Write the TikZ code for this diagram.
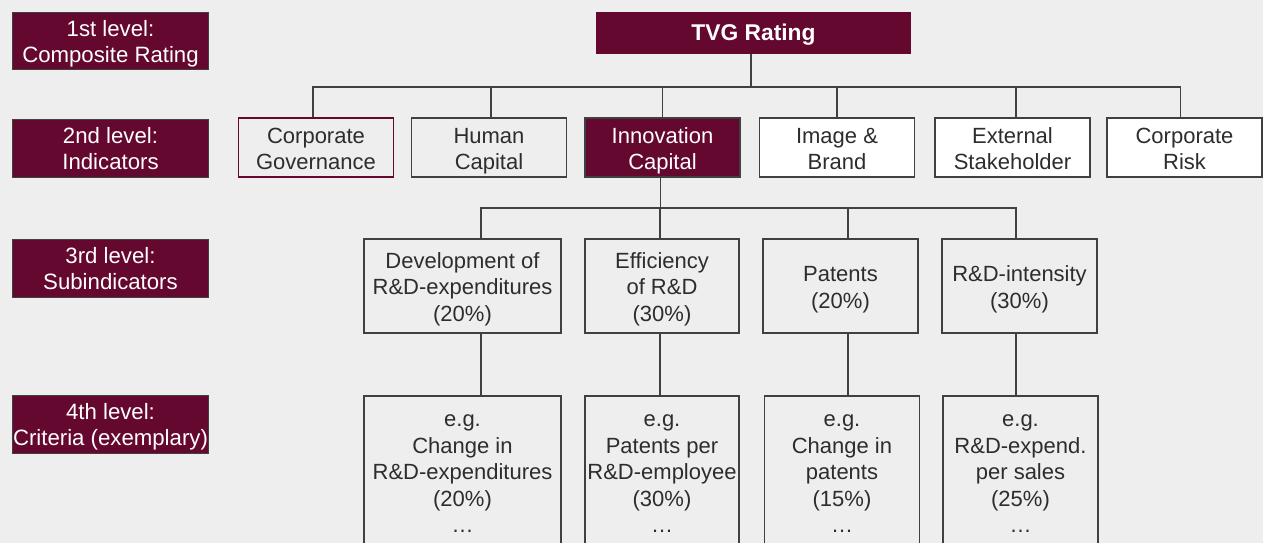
\documentclass[tikz,border=0pt]{standalone}
\usepackage{fontspec}
\setmainfont{Liberation Sans}
\definecolor{wine}{RGB}{101,8,47}
\definecolor{paper}{RGB}{237,238,237}
\definecolor{ink}{RGB}{45,45,45}
\definecolor{rule}{RGB}{64,64,64}
% invisible struts: \hs opens the first line, the tail strut closes the last one
\newcommand{\hs}{\rule{0pt}{22.5pt}}
\newcommand{\tailstrut}{\rule[-5pt]{0pt}{5pt}}
\begin{document}
\begin{tikzpicture}[x=1pt,y=-1pt,
  every node/.style={inner sep=0pt,align=center,font=\fontsize{22}{26.5}\selectfont},
  struts/.style={execute at end node=\tailstrut},
  lvl/.style={struts,rectangle,fill=wine,draw=rule,line width=0.8pt,text=white,minimum width=196pt,font=\fontsize{22.2}{25.6}\selectfont},
  box/.style={struts,rectangle,draw=rule,line width=1.3pt,text=ink,minimum width=155pt},
  whitebox/.style={box,fill=white},
  wire/.style={draw=rule,line width=1.3pt}]
\clip (0,0) rectangle (1263,543);
\fill[paper] (0,0) rectangle (1263,543);

% level labels on the left
\node[lvl,minimum height=57pt] (l1) at (110.5,40.5) {\hs 1st level:\\Composite Rating};
\node[lvl,minimum height=58pt] (l2) at (110.5,148) {\hs 2nd level:\\Indicators};
\node[lvl,minimum height=58pt] (l3) at (110.5,268) {\hs 3rd level:\\Subindicators};
\node[lvl,minimum height=58pt] (l4) at (110.5,424) {\hs 4th level:\\Criteria (exemplary)};

% level 1
\node[rectangle,fill=wine,text=white,minimum width=315pt,minimum height=42pt,
      execute at end node=\tailstrut,
      font=\bfseries\fontsize{22.8}{26}\selectfont] (tvg) at (753.5,33) {\rule{0pt}{21pt}TVG Rating};

% level 2
\node[box,draw=wine,minimum height=59pt] (cg) at (316,147.5) {\hs Corporate\\Governance};
\node[box,minimum height=59pt] (hc) at (489,147.5) {\hs Human\\Capital};
\node[box,fill=wine,text=white,minimum height=59pt] (ic) at (662.5,147.5) {\hs Innovation\\Capital};
\node[whitebox,minimum height=59pt] (ib) at (837,147.5) {\hs Image \&\\Brand};
\node[whitebox,minimum height=59pt] (es) at (1012.5,147.5) {\hs External\\Stakeholder};
\node[whitebox,minimum height=59pt] (cr) at (1184.5,147.5) {\hs Corporate\\Risk};

% level 3
\node[box,minimum width=197pt,minimum height=94pt] (s1) at (462.5,286) {\hs Development of\\R\&D-expenditures\\(20\%)};
\node[box,minimum width=154pt,minimum height=94pt] (s2) at (662,286) {\hs Efficiency\\of R\&D\\(30\%)};
\node[box,minimum height=94pt] (s3) at (840.5,286) {\hs Patents\\(20\%)};
\node[box,minimum height=94pt] (s4) at (1019.5,286) {\hs R\&D-intensity\\(30\%)};

% level 4 (boxes run past the lower edge)
\node[box,minimum width=197pt,minimum height=150pt] (c1) at (462.5,471) {\hs e.g.\\Change in\\R\&D-expenditures\\(20\%)\\\ldots};
\node[box,minimum width=154pt,minimum height=150pt] (c2) at (662,471) {\hs e.g.\\Patents per\\R\&D-employee\\(30\%)\\\ldots};
\node[box,minimum height=150pt] (c3) at (842,471) {\hs e.g.\\Change in\\patents\\(15\%)\\\ldots};
\node[box,minimum height=150pt] (c4) at (1020.5,471) {\hs e.g.\\R\&D-expend.\\per sales\\(25\%)\\\ldots};

% connectors level 1 -> 2
\coordinate (busA) at (0,87);
\draw[wire] ([xshift=-3pt]cg.north) -- ([xshift=-3pt]cg.north |- busA) -| ([xshift=-4pt]cr.north);
\draw[wire] ([xshift=-2.5pt]tvg.south) -- ([xshift=-2.5pt]tvg.south |- busA);
\draw[wire] ([xshift=2pt]hc.north) -- ([xshift=2pt]hc.north |- busA);
\draw[wire] (ic.north) -- (ic.north |- busA);
\draw[wire] (ib.north) -- (ib.north |- busA);
\draw[wire] ([xshift=3.5pt]es.north) -- ([xshift=3.5pt]es.north |- busA);

% connectors level 2 -> 3
\coordinate (busB) at (0,208);
\draw[wire] ([xshift=-2pt]ic.south) -- ([xshift=-2pt]ic.south |- busB);
\draw[wire] ([xshift=18.5pt]s1.north) -- ([xshift=18.5pt]s1.north |- busB) -| ([xshift=-3.5pt]s4.north);
\draw[wire] ([xshift=-2pt]s2.north) -- ([xshift=-2pt]s2.north |- busB);
\draw[wire] ([xshift=7.5pt]s3.north) -- ([xshift=7.5pt]s3.north |- busB);

% connectors level 3 -> 4
\draw[wire] ([xshift=18.5pt]s1.south) -- ([xshift=18.5pt]s1.south |- c1.north);
\draw[wire] ([xshift=-2pt]s2.south) -- ([xshift=-2pt]s2.south |- c2.north);
\draw[wire] ([xshift=7.5pt]s3.south) -- ([xshift=7.5pt]s3.south |- c3.north);
\draw[wire] ([xshift=-3.5pt]s4.south) -- ([xshift=-3.5pt]s4.south |- c4.north);
\end{tikzpicture}
\end{document}
